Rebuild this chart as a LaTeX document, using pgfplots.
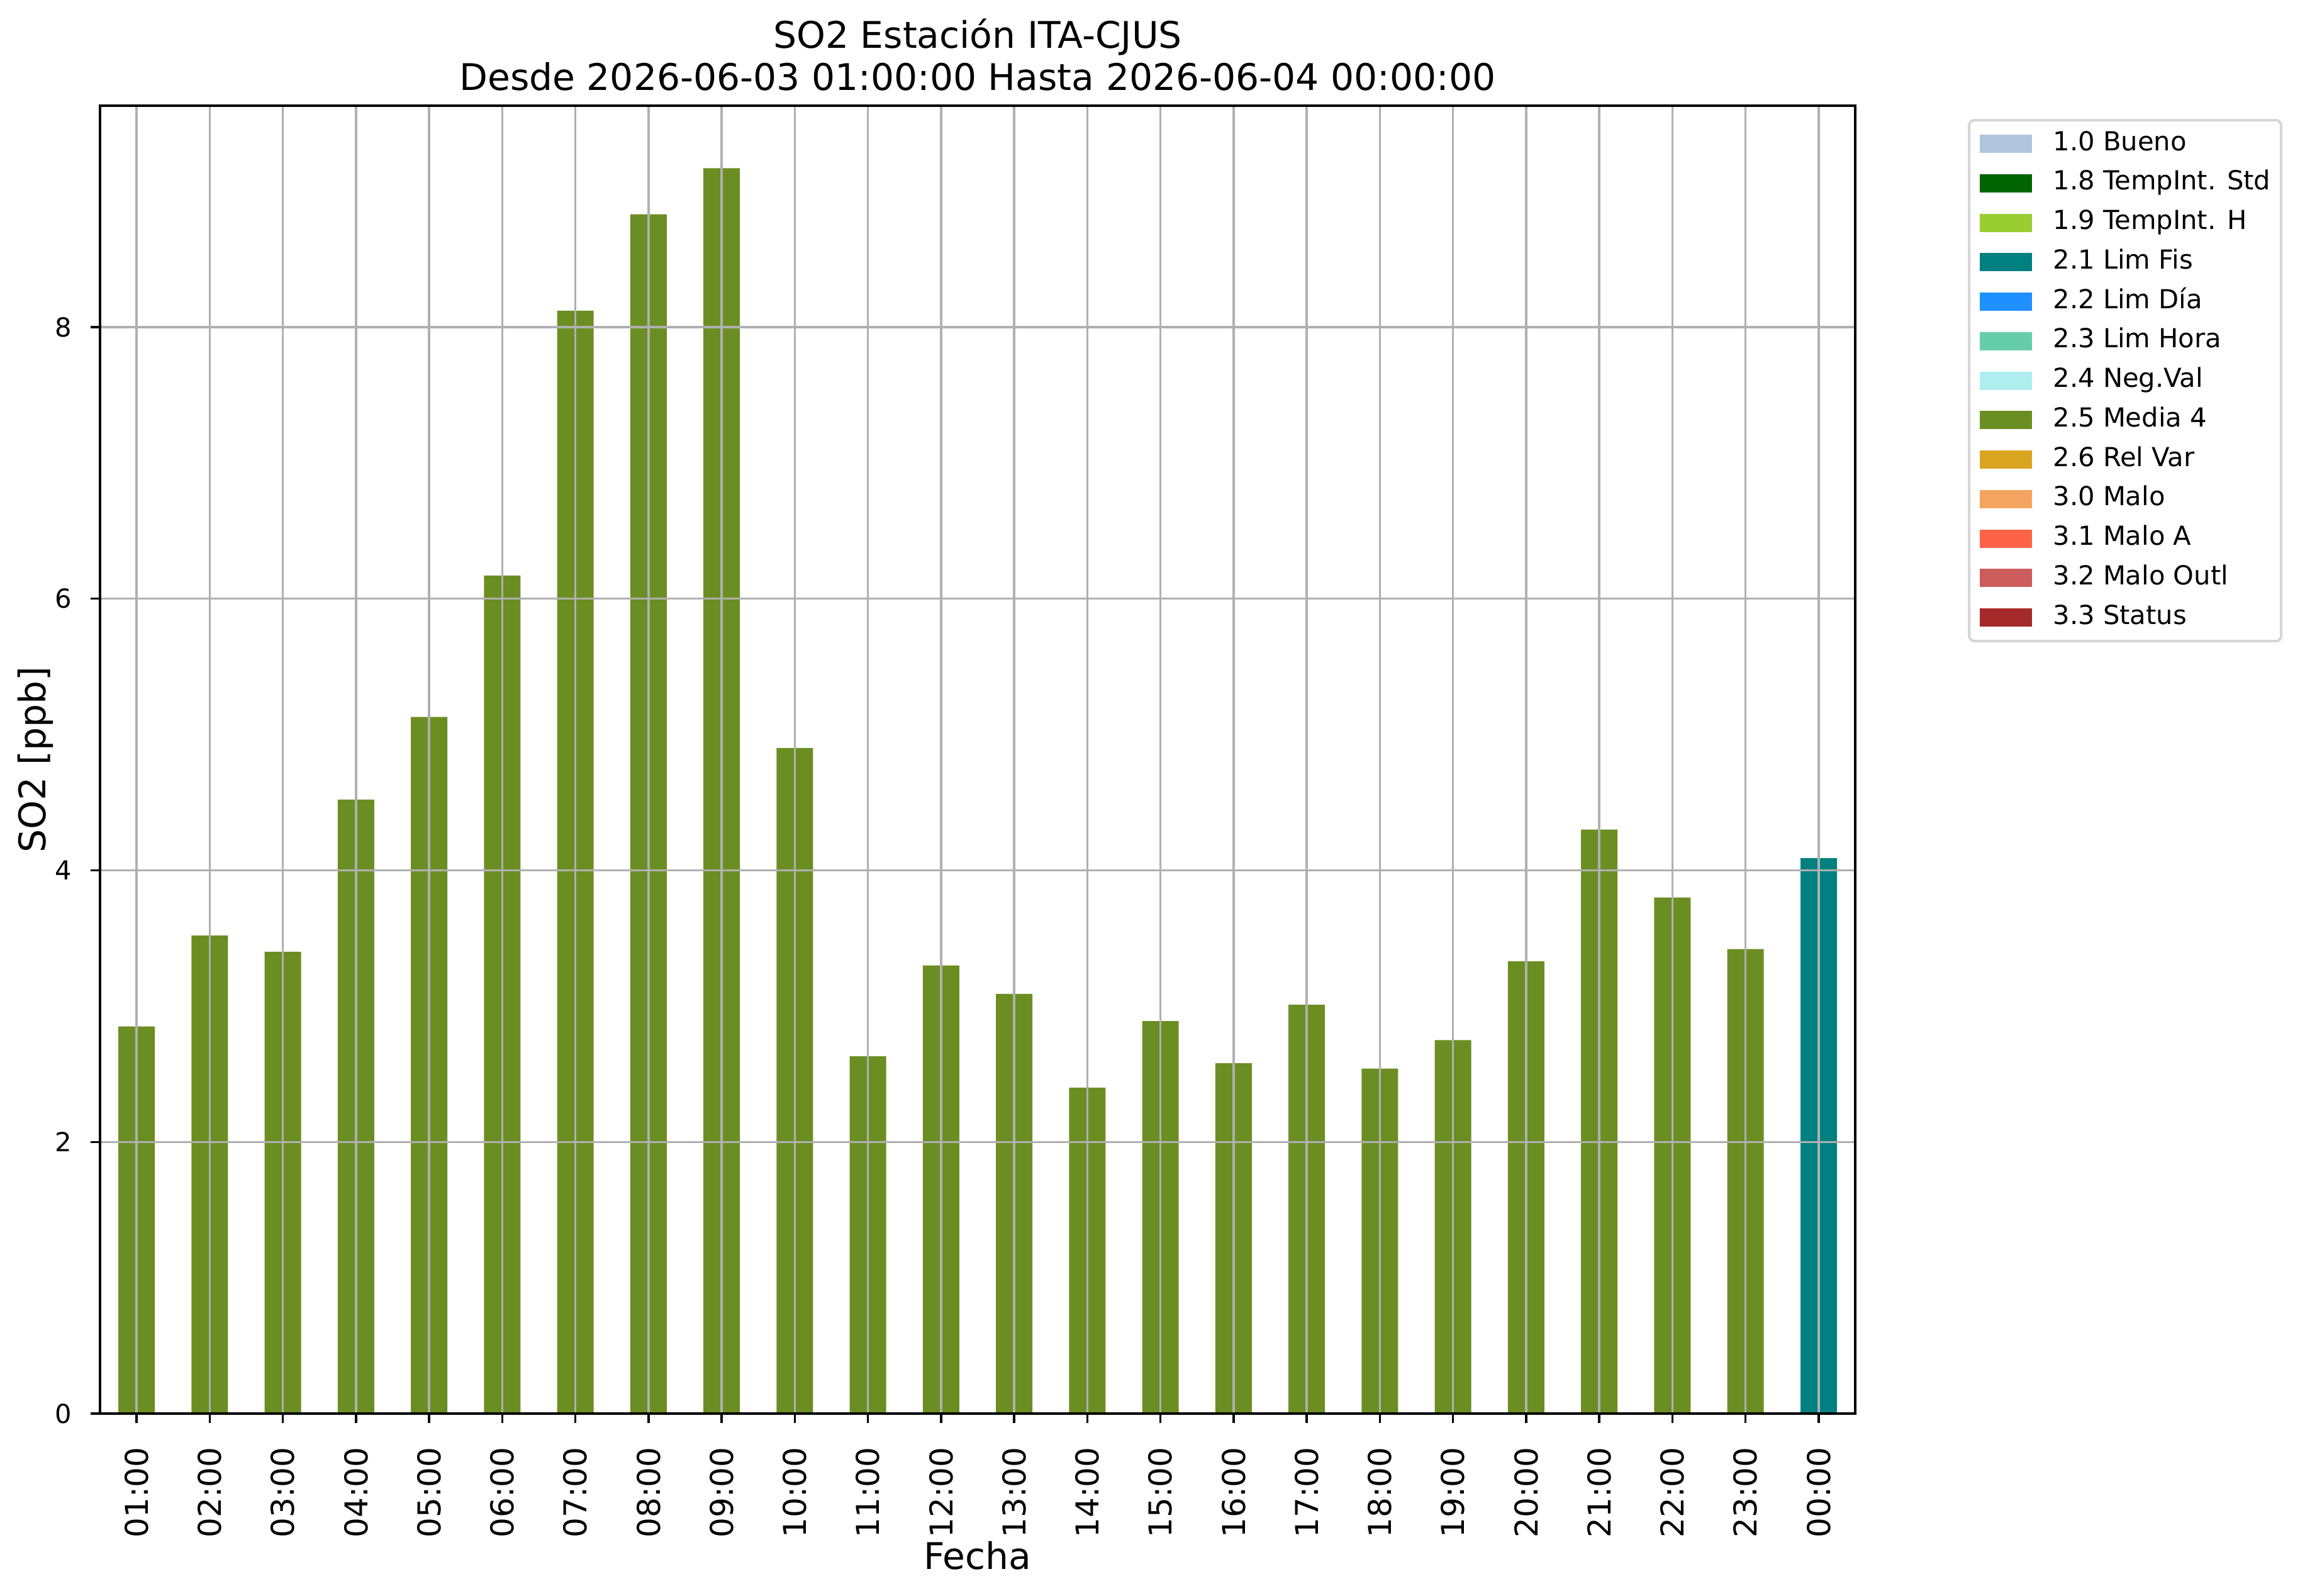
\documentclass[border=0pt]{standalone}
\usepackage{fontspec}
\setmainfont{DejaVu Sans}
\usepackage{pgfplots}
\pgfplotsset{compat=1.18}
\definecolor{cBueno}{HTML}{B0C4DE}
\definecolor{cStd}{HTML}{006400}
\definecolor{cH}{HTML}{9ACD32}
\definecolor{cFis}{HTML}{008080}
\definecolor{cDia}{HTML}{1E90FF}
\definecolor{cHora}{HTML}{66CDAA}
\definecolor{cNeg}{HTML}{AFEEEE}
\definecolor{cMedia}{HTML}{6B8E23}
\definecolor{cRel}{HTML}{DAA520}
\definecolor{cMalo}{HTML}{F4A460}
\definecolor{cMaloA}{HTML}{FF6347}
\definecolor{cOutl}{HTML}{CD5C5C}
\definecolor{cStatus}{HTML}{A52A2A}
\definecolor{gridgray}{HTML}{B0B0B0}
\definecolor{legframe}{HTML}{D6D6D6}
\pgfplotsset{
  barlegend/.style={legend image code/.code={\fill[sharp corners] (0pt,-3.5pt) rectangle (20pt,3.5pt);}},
}
\begin{document}
\begin{tikzpicture}
\path[use as bounding box] (0pt,0pt) rectangle (877.44pt,608.64pt);
\begin{axis}[
  at={(38.16pt,69.36pt)}, anchor=south west,
  scale only axis, width=669.6pt, height=498.96pt,
  xmin=-0.5, xmax=23.5, ymin=0, ymax=9.63,
  xtick={0,...,23},
  xticklabels={01:00,02:00,03:00,04:00,05:00,06:00,07:00,08:00,09:00,10:00,11:00,12:00,13:00,14:00,15:00,16:00,17:00,18:00,19:00,20:00,21:00,22:00,23:00,00:00},
  ytick={0,2,4,6,8},
  /pgf/number format/assume math mode=true,
  xticklabel style={font=\fontsize{12}{14}\selectfont, rotate=90, anchor=east, inner sep=0pt},
  yticklabel style={font=\fontsize{10}{12}\selectfont, anchor=east, inner sep=0pt},
  xticklabel shift=9.12pt,
  yticklabel shift=7.2pt,
  tick align=outside,
  xtick pos=bottom, ytick pos=left,
  major tick length=3.5pt,
  tick style={black, line width=0.8pt},
  axis line style={black, line width=0.8pt},
  grid=major,
  major grid style={gridgray, line width=0.8pt},
  axis on top,
  legend style={at={(axis description cs:1.0642,0.9899)}, anchor=north west,
    draw=legframe, line width=1pt, rounded corners=2pt, inner sep=4pt,
    font=\fontsize{10}{12}\selectfont,
    nodes={inner sep=0pt, text height=7.5pt, text depth=2.5pt},
    row sep=5.06pt,
    /tikz/every odd column/.append style={column sep=8pt}},
  legend cell align=left,
]
\addplot[ybar, bar width=0.5, bar shift=0pt, fill=cMedia, draw=none, forget plot] coordinates {
(0,2.85) (1,3.52) (2,3.40) (3,4.52) (4,5.13) (5,6.17) (6,8.12) (7,8.83) (8,9.17) (9,4.90)
(10,2.63) (11,3.30) (12,3.09) (13,2.40) (14,2.89) (15,2.58) (16,3.01) (17,2.54) (18,2.75)
(19,3.33) (20,4.30) (21,3.80) (22,3.42)};
\addplot[ybar, bar width=0.5, bar shift=0pt, fill=cFis, draw=none, forget plot] coordinates {(23,4.09)};
\addlegendimage{barlegend, fill=cBueno, draw=none}\addlegendentry{1.0 Bueno}
\addlegendimage{barlegend, fill=cStd, draw=none}\addlegendentry{1.8 TempInt. Std}
\addlegendimage{barlegend, fill=cH, draw=none}\addlegendentry{1.9 TempInt. H}
\addlegendimage{barlegend, fill=cFis, draw=none}\addlegendentry{2.1 Lim Fis}
\addlegendimage{barlegend, fill=cDia, draw=none}\addlegendentry{2.2 Lim Día}
\addlegendimage{barlegend, fill=cHora, draw=none}\addlegendentry{2.3 Lim Hora}
\addlegendimage{barlegend, fill=cNeg, draw=none}\addlegendentry{2.4 Neg.Val}
\addlegendimage{barlegend, fill=cMedia, draw=none}\addlegendentry{2.5 Media 4}
\addlegendimage{barlegend, fill=cRel, draw=none}\addlegendentry{2.6 Rel Var}
\addlegendimage{barlegend, fill=cMalo, draw=none}\addlegendentry{3.0 Malo}
\addlegendimage{barlegend, fill=cMaloA, draw=none}\addlegendentry{3.1 Malo A}
\addlegendimage{barlegend, fill=cOutl, draw=none}\addlegendentry{3.2 Malo Outl}
\addlegendimage{barlegend, fill=cStatus, draw=none}\addlegendentry{3.3 Status}
\end{axis}
\node[anchor=base, font=\fontsize{14}{16}\selectfont, inner sep=0pt] at (372.96pt,590.16pt) {SO2 Estación ITA-CJUS};
\node[anchor=base, font=\fontsize{14}{16}\selectfont, inner sep=0pt] at (372.96pt,574.08pt) {Desde 2026-06-03 01:00:00 Hasta 2026-06-04 00:00:00};
\node[anchor=base, font=\fontsize{14}{16}\selectfont, inner sep=0pt] at (372.96pt,10.08pt) {Fecha};
\node[anchor=base, rotate=90, font=\fontsize{14}{16}\selectfont, inner sep=0pt] at (17.28pt,318.84pt) {SO2 [ppb]};
\end{tikzpicture}
\end{document}
